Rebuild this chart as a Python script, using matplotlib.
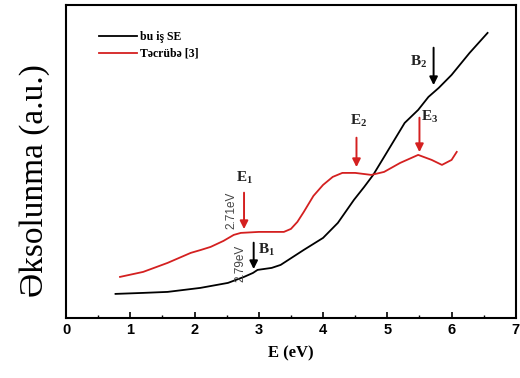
import matplotlib.pyplot as plt
from matplotlib.ticker import MultipleLocator, NullLocator

plt.rcParams['mathtext.fontset'] = 'custom'
plt.rcParams['mathtext.rm'] = 'Liberation Serif'
plt.rcParams['mathtext.bf'] = 'Liberation Serif:bold'

# black curve: bu iş SE
E_se = [0.77, 1.2, 1.58, 2.09, 2.52, 2.77, 2.91, 2.98, 3.2, 3.34, 3.7, 4.0, 4.23, 4.48,
        4.64, 4.78, 4.95, 5.11, 5.27, 5.48, 5.64, 5.8, 6.0, 6.28, 6.56]
R_se = [24, 25, 26, 30, 35, 41, 45, 48, 50, 53, 68, 80, 95, 118,
        131, 143, 161, 178, 195, 208, 221, 230, 243, 265, 285]

# red curve: Təcrübə [3]
E_exp = [0.84, 1.2, 1.58, 1.94, 2.1, 2.25, 2.45, 2.61, 2.72, 3.0, 3.39, 3.5, 3.6, 3.7,
         3.85, 4.0, 4.15, 4.3, 4.5, 4.75, 4.95, 5.2, 5.48, 5.69, 5.85, 6.0, 6.08]
R_exp = [41, 46, 55, 65, 68, 71, 77, 83, 85, 86, 86, 89, 96, 106,
         122, 133, 141, 145, 145, 143, 146, 155, 163, 158, 153, 158, 166]

# arrows: (x, tail, head, colour)
arrows = [(2.77, 128, 86, '#d42020'), (2.92, 78, 46, 'black'),
          (4.52, 183, 148, '#d42020'), (5.5, 203, 163, '#d42020'),
          (5.72, 273, 230, 'black')]
labels = [(2.77, 140, r'$\mathbf{E_1}$'), (3.12, 68, r'$\mathbf{B_1}$'),
          (4.55, 197, r'$\mathbf{E_2}$'), (5.66, 201, r'$\mathbf{E_3}$'),
          (5.48, 256, r'$\mathbf{B_2}$')]

fig = plt.figure(figsize=(5.2, 3.78), dpi=100)
ax = fig.add_axes([0.127, 0.159, 0.865, 0.828])

ax.plot(E_se, R_se, color='black', lw=1.3, label='bu iş SE')
ax.plot(E_exp, R_exp, color='#d42020', lw=1.3, label='Təcrübə [3]')

for x, t, h, c in arrows:
    ax.annotate('', xy=(x, h), xytext=(x, t),
                arrowprops=dict(arrowstyle='-|>', color=c, lw=1.4, mutation_scale=12))
for x, y, s in labels:
    ax.text(x, y, s, ha='center', va='center', fontsize=11, color='#222222')
ax.text(2.57, 108, '2.71eV', rotation=90, ha='center', va='center', fontsize=8.5,
        family='Liberation Sans', color='#444444')
ax.text(2.71, 55, '2.79eV', rotation=90, ha='center', va='center', fontsize=8.5,
        family='Liberation Sans', color='#444444')

ax.set_xlim(0, 7)
ax.set_ylim(0, 313)
ax.xaxis.set_major_locator(MultipleLocator(1))
ax.xaxis.set_minor_locator(MultipleLocator(0.5))
ax.yaxis.set_major_locator(NullLocator())
ax.tick_params(axis='x', which='both', direction='in', top=False)
ax.tick_params(axis='x', which='major', length=4, width=1.2, labelsize=10.5)
ax.tick_params(axis='x', which='minor', length=2.5, width=1)
for lab in ax.get_xticklabels():
    lab.set_fontweight('bold')
    lab.set_family('Liberation Sans')
for sp in ax.spines.values():
    sp.set_linewidth(1.5)

ax.set_xlabel('E (eV)', fontsize=12, fontweight='bold', family='Liberation Serif', labelpad=6)
ax.set_ylabel('Əksolunma (a.u.)', fontsize=24, family='Liberation Serif')
ax.yaxis.set_label_coords(-0.035, 0.44)

leg = ax.legend(loc='upper left', bbox_to_anchor=(0.05, 0.95), frameon=False,
                prop={'family': 'Liberation Serif', 'weight': 'bold', 'size': 8.5},
                handlelength=3.2, labelspacing=0.4, handletextpad=0.3)

fig.savefig('out.png', dpi=100)
